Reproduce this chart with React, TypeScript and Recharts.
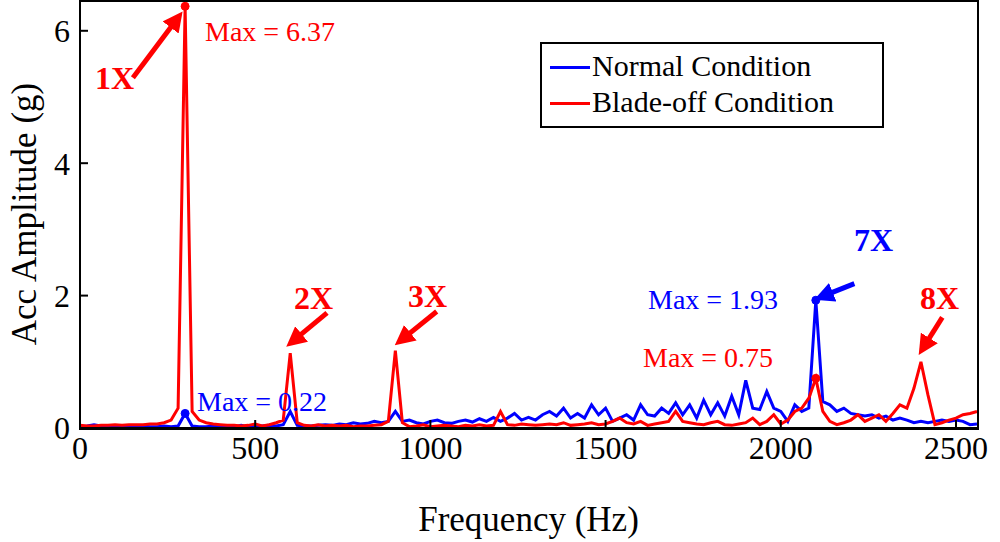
import React from "react"
import { LineChart, Line, XAxis, YAxis, ReferenceLine, ReferenceDot } from "recharts"

const freq = [
  0, 20, 40, 60, 80, 100, 120, 140, 160, 180, 200, 220, 240, 260, 280, 300, 320, 340, 360, 380,
  400, 420, 440, 460, 480, 500, 520, 540, 560, 580, 600, 620, 640, 660, 680, 700, 720, 740, 760, 780,
  800, 820, 840, 860, 880, 900, 920, 940, 960, 980, 1000, 1020, 1040, 1060, 1080, 1100, 1120, 1140, 1160, 1180,
  1200, 1220, 1240, 1260, 1280, 1300, 1320, 1340, 1360, 1380, 1400, 1420, 1440, 1460, 1480, 1500, 1520, 1540, 1560, 1580,
  1600, 1620, 1640, 1660, 1680, 1700, 1720, 1740, 1760, 1780, 1800, 1820, 1840, 1860, 1880, 1900, 1920, 1940, 1960, 1980,
  2000, 2020, 2040, 2060, 2080, 2100, 2120, 2140, 2160, 2180, 2200, 2220, 2240, 2260, 2280, 2300, 2320, 2340, 2360, 2380,
  2400, 2420, 2440, 2460, 2480, 2500, 2520, 2540, 2560,
]

const normal = [
  0.02, 0.03, 0.05, 0.03, 0.02, 0.02, 0.03, 0.02, 0.02, 0.03, 0.02, 0.02, 0.03, 0.02, 0.03,
  0.22,
  0.03, 0.02, 0.02, 0.03, 0.02, 0.03, 0.02, 0.04, 0.02, 0.03, 0.03, 0.04, 0.03, 0.05,
  0.25,
  0.04, 0.03, 0.03, 0.04, 0.05, 0.04, 0.06, 0.05, 0.08, 0.06, 0.07, 0.1, 0.08, 0.1,
  0.25,
  0.1, 0.12, 0.08, 0.06, 0.1, 0.12, 0.08, 0.07, 0.1, 0.12, 0.09, 0.14, 0.1, 0.16, 0.1, 0.15, 0.22, 0.12, 0.16, 0.12,
  0.2, 0.25, 0.18, 0.3, 0.15, 0.22, 0.15, 0.35, 0.2,
  0.3, 0.1, 0.15, 0.2, 0.12, 0.35, 0.2, 0.18, 0.3, 0.22, 0.38, 0.2, 0.35, 0.15, 0.42, 0.2, 0.38, 0.18, 0.48, 0.2,
  0.72,
  0.3, 0.28, 0.55, 0.3, 0.25, 0.1, 0.35, 0.25, 0.3,
  1.93,
  0.4, 0.35, 0.25, 0.3, 0.22, 0.2, 0.18, 0.2, 0.15, 0.18, 0.12, 0.15, 0.12, 0.08, 0.1, 0.08, 0.1, 0.12, 0.1, 0.12,
  0.1, 0.05, 0.06,
]

const bladeOff = [
  0.04, 0.03, 0.03, 0.04, 0.04, 0.05, 0.04, 0.05, 0.05, 0.05, 0.06, 0.06, 0.08, 0.12,
  0.3, 6.37, 0.25,
  0.12, 0.08, 0.06, 0.05, 0.04, 0.04, 0.03, 0.04, 0.06, 0.03, 0.05, 0.08, 0.12,
  1.13,
  0.08, 0.04, 0.03, 0.05, 0.03, 0.04, 0.03, 0.04, 0.02, 0.03, 0.03, 0.04, 0.05, 0.1,
  1.17,
  0.08, 0.02, 0.03, 0.05, 0.02, 0.03, 0.04, 0.03, 0.02, 0.04, 0.03, 0.05, 0.03, 0.04,
  0.25,
  0.05, 0.04, 0.06, 0.05, 0.04, 0.05, 0.06, 0.05, 0.08, 0.04, 0.05, 0.06, 0.08, 0.05, 0.06, 0.1, 0.15, 0.08, 0.06, 0.1,
  0.04, 0.06, 0.08, 0.1, 0.25, 0.1, 0.08, 0.06, 0.05, 0.08, 0.1, 0.05, 0.04, 0.06, 0.08, 0.15, 0.05, 0.1, 0.2, 0.06,
  0.12, 0.25, 0.3, 0.45,
  0.75,
  0.25, 0.1, 0.05, 0.08, 0.12, 0.2, 0.1, 0.15, 0.2, 0.1, 0.22, 0.35, 0.3, 0.6, 1.0, 0.5, 0.05, 0.08, 0.12, 0.15,
  0.2, 0.22, 0.25,
]

const xTicks = [0, 500, 1000, 1500, 2000, 2500]
const yTicks = [0, 2, 4, 6]

// arrows: [x1, y1, x2 (tip), y2 (tip), colour]
const arrows: [number, number, number, number, string][] = [
  [151, 5.29, 280, 6.2, "#ff0000"],
  [705, 1.74, 605, 1.3, "#ff0000"],
  [1018, 1.76, 915, 1.32, "#ff0000"],
  [2210, 2.18, 2115, 1.98, "#0000ff"],
  [2461, 1.67, 2405, 1.2, "#ff0000"],
]

const data = freq.map((f, i) => ({ f, normal: normal[i], blade: bladeOff[i] }))

const FONT = "'Liberation Serif', 'Times New Roman', serif"
const RED = "#ff0000"
const BLUE = "#0000ff"

const txt = (left: number, top: number, s: string, color: string, bold = false, size = 28): React.ReactNode => (
  <div key={s} style={{ position: "absolute", left, top, color, fontFamily: FONT, fontSize: size, fontWeight: bold ? 700 : 400, whiteSpace: "nowrap", lineHeight: 1 }}>{s}</div>
)

export default function App() {
  return (
    <div style={{ position: "absolute", left: 0, top: 0, width: 1000, height: 542, background: "#fff", fontFamily: FONT }}>
      <LineChart width={1000} height={542} data={data} margin={{ top: 1, right: 23, left: 0, bottom: 0 }}>
        <defs>
          <marker id="arrR" markerWidth="4" markerHeight="4" refX="2.5" refY="2" orient="auto" markerUnits="strokeWidth">
            <path d="M0,0 L4,2 L0,4 Z" fill={RED} />
          </marker>
          <marker id="arrB" markerWidth="4" markerHeight="4" refX="2.5" refY="2" orient="auto" markerUnits="strokeWidth">
            <path d="M0,0 L4,2 L0,4 Z" fill={BLUE} />
          </marker>
        </defs>
        <XAxis dataKey="f" type="number" domain={[0, 2560]} ticks={xTicks} height={114} stroke="#000" strokeWidth={2}
          tickSize={-8} tickMargin={16} tick={{ fill: "#000", fontSize: 32, fontFamily: FONT }} />
        <YAxis type="number" domain={[0, 6.45]} ticks={yTicks} width={80} stroke="#000" strokeWidth={2}
          tickSize={-8} tickMargin={18} tick={{ fill: "#000", fontSize: 32, fontFamily: FONT }} />
        <Line dataKey="normal" stroke={BLUE} strokeWidth={3} dot={false} isAnimationActive={false} />
        <Line dataKey="blade" stroke={RED} strokeWidth={3} dot={false} isAnimationActive={false} />
        <ReferenceDot x={300} y={0.22} r={4} fill={BLUE} stroke={BLUE} />
        <ReferenceDot x={2100} y={1.93} r={4} fill={BLUE} stroke={BLUE} />
        <ReferenceDot x={300} y={6.37} r={4} fill={RED} stroke={RED} />
        <ReferenceDot x={2100} y={0.75} r={4} fill={RED} stroke={RED} />
        {arrows.map(([x1, y1, x2, y2, c], i) => (
          <ReferenceLine key={i} segment={[{ x: x1, y: y1 }, { x: x2, y: y2 }]} stroke={c} strokeWidth={5}
            markerEnd={c === BLUE ? "url(#arrB)" : "url(#arrR)"} ifOverflow="visible" />
        ))}
      </LineChart>
      <div style={{ position: "absolute", left: 79, top: 0, width: 896, height: 426, border: "2px solid #000", pointerEvents: "none" }} />
      {txt(95, 62, "1X", RED, true, 32)}
      {txt(294, 282, "2X", RED, true, 32)}
      {txt(408, 280, "3X", RED, true, 32)}
      {txt(854, 224, "7X", BLUE, true, 32)}
      {txt(920, 282, "8X", RED, true, 32)}
      {txt(205, 18, "Max = 6.37", RED)}
      {txt(197, 388, "Max = 0.22", BLUE)}
      {txt(648, 286, "Max = 1.93", BLUE)}
      {txt(643, 344, "Max = 0.75", RED)}
      <div style={{ position: "absolute", left: 540, top: 42, width: 340, height: 82, border: "2px solid #000", background: "#fff" }}>
        <div style={{ position: "absolute", left: 8, top: 22, width: 40, height: 3, background: BLUE }} />
        <div style={{ position: "absolute", left: 8, top: 58, width: 40, height: 3, background: RED }} />
        {txt(50, 7, "Normal Condition", "#000", false, 30)}
        {txt(50, 43, "Blade-off Condition", "#000", false, 30)}
      </div>
      <div style={{ position: "absolute", left: 80, top: 502, width: 897, textAlign: "center", fontSize: 35, lineHeight: 1 }}>
        Frequency (Hz)
      </div>
      <div style={{ position: "absolute", left: 24, top: 214, transform: "translate(-50%, -50%) rotate(-90deg)", fontSize: 35, whiteSpace: "nowrap", lineHeight: 1 }}>
        Acc Amplitude (g)
      </div>
    </div>
  )
}
